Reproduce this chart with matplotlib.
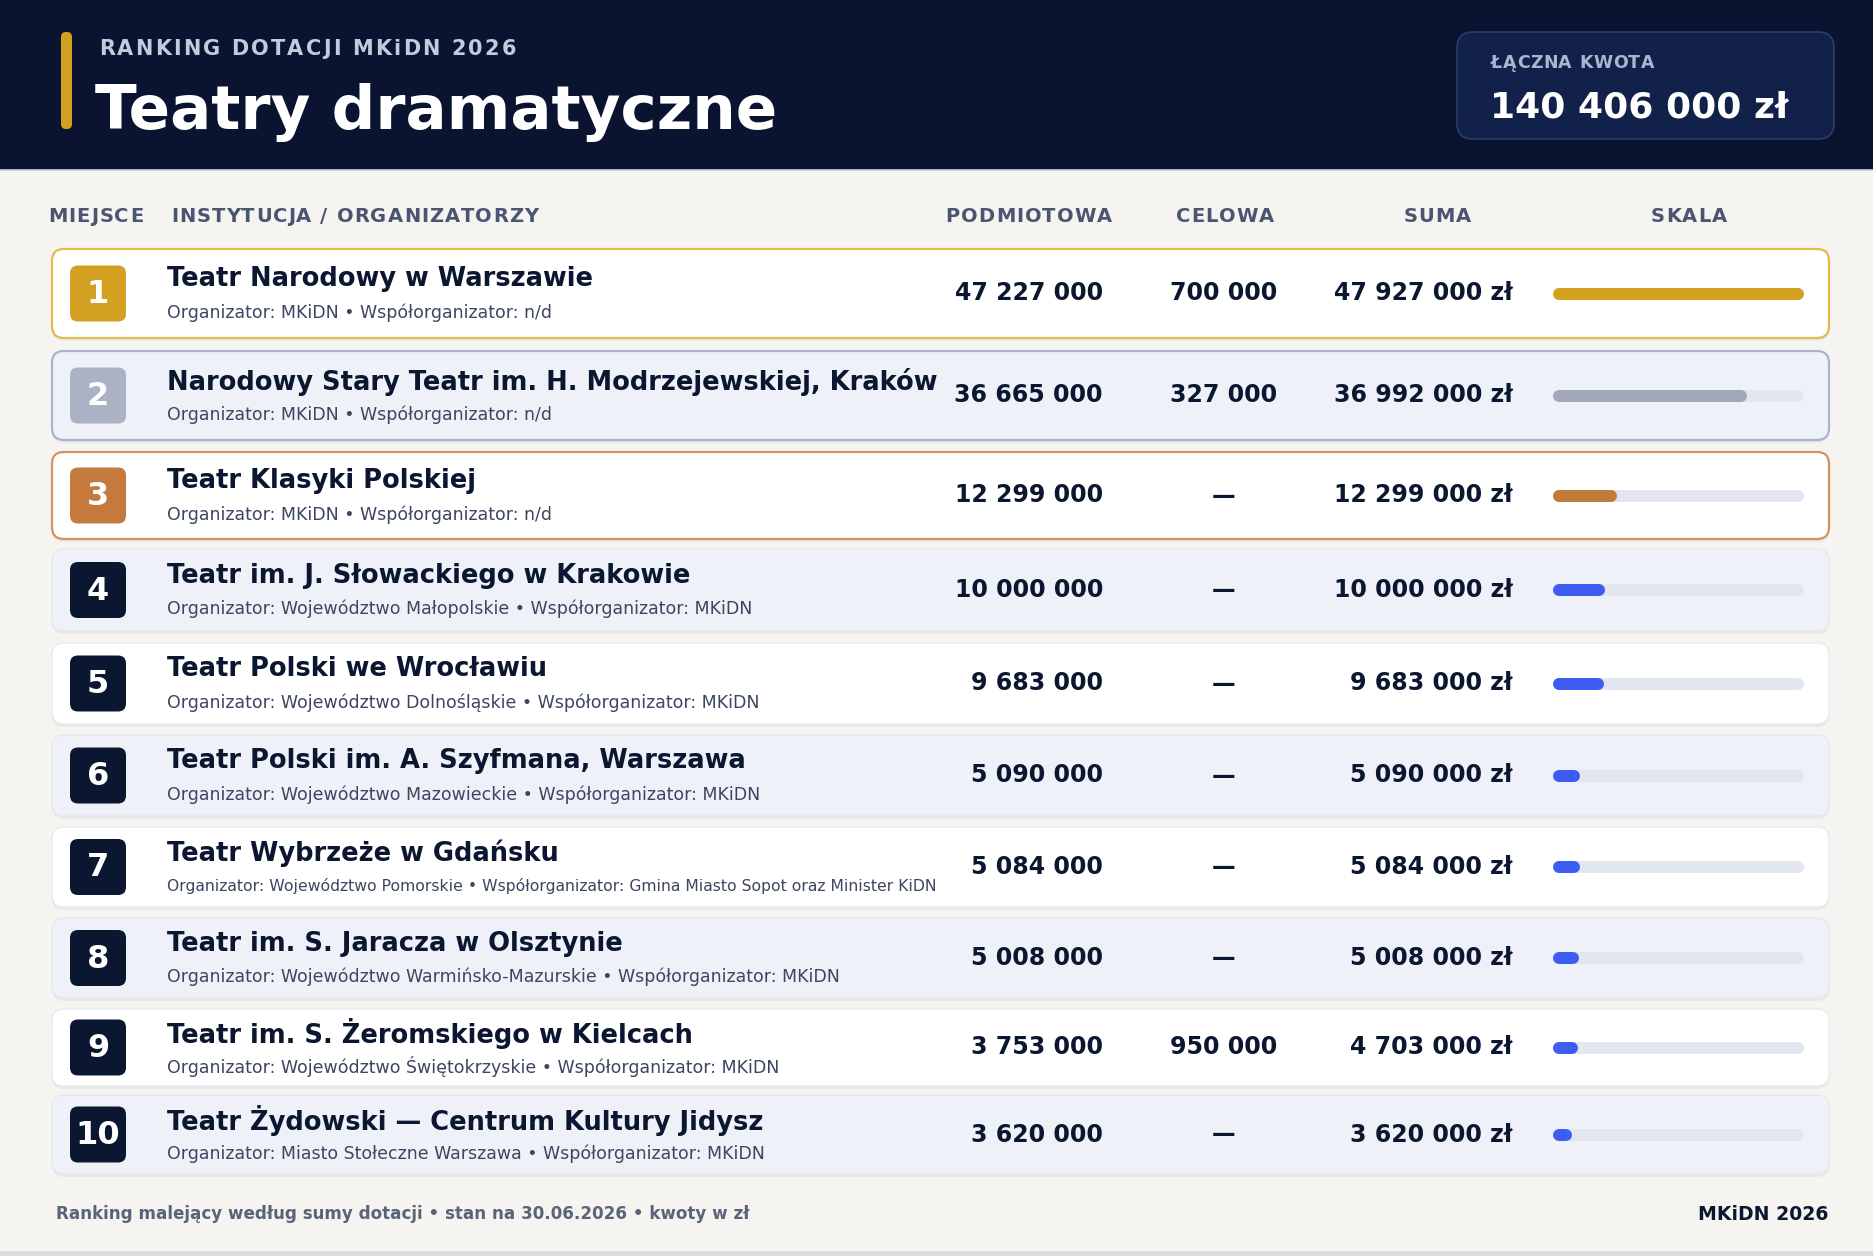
import matplotlib
matplotlib.use("Agg")
import matplotlib.pyplot as plt
from matplotlib.patches import FancyBboxPatch

# ---- data ----
ranks = [1, 2, 3, 4, 5, 6, 7, 8, 9, 10]
names = [
    "Teatr Narodowy w Warszawie",
    "Narodowy Stary Teatr im. H. Modrzejewskiej, Kraków",
    "Teatr Klasyki Polskiej",
    "Teatr im. J. Słowackiego w Krakowie",
    "Teatr Polski we Wrocławiu",
    "Teatr Polski im. A. Szyfmana, Warszawa",
    "Teatr Wybrzeże w Gdańsku",
    "Teatr im. S. Jaracza w Olsztynie",
    "Teatr im. S. Żeromskiego w Kielcach",
    "Teatr Żydowski — Centrum Kultury Jidysz",
]
organizers = [
    "Organizator: MKiDN • Współorganizator: n/d",
    "Organizator: MKiDN • Współorganizator: n/d",
    "Organizator: MKiDN • Współorganizator: n/d",
    "Organizator: Województwo Małopolskie • Współorganizator: MKiDN",
    "Organizator: Województwo Dolnośląskie • Współorganizator: MKiDN",
    "Organizator: Województwo Mazowieckie • Współorganizator: MKiDN",
    "Organizator: Województwo Pomorskie • Współorganizator: Gmina Miasto Sopot oraz Minister KiDN",
    "Organizator: Województwo Warmińsko-Mazurskie • Współorganizator: MKiDN",
    "Organizator: Województwo Świętokrzyskie • Współorganizator: MKiDN",
    "Organizator: Miasto Stołeczne Warszawa • Współorganizator: MKiDN",
]
podmiotowa = [47227000, 36665000, 12299000, 10000000, 9683000,
              5090000, 5084000, 5008000, 3753000, 3620000]
celowa = [700000, 327000, None, None, None, None, None, None, 950000, None]
suma = [47927000, 36992000, 12299000, 10000000, 9683000,
        5090000, 5084000, 5008000, 4703000, 3620000]

col_headers = ["MIEJSCE", "INSTYTUCJA / ORGANIZATORZY", "PODMIOTOWA", "CELOWA", "SUMA", "SKALA"]

# ---- layout (pixels) ----
W, H, DPI = 1874, 1256, 100
row_top = [249, 351, 452, 549, 643, 735, 827, 918, 1009, 1095]
row_h = [89, 89, 87, 82, 81, 81, 80, 80, 77, 79]

NAVY = "#0a1430"
INK = "#0b1630"
BG = "#f5f4f1"
LIGHT = "#eef1f7"
medal_fill = {1: "#d4a021", 2: "#aab2c4", 3: "#c47a3c"}
medal_edge = {1: "#e2bb4e", 2: "#a9b3c9", 3: "#d4935a"}
bar_color = {1: "#d4a020", 2: "#a0a8ba", 3: "#c07a3a"}
BLUE = "#3d5cf0"
TRACK = "#e2e6ef"


def fmt(v):
    return f"{v:,}".replace(",", " ")


fig = plt.figure(figsize=(W / DPI, H / DPI), dpi=DPI, facecolor=BG)
ax = fig.add_axes([0, 0, 1, 1])
ax.set_xlim(0, W)
ax.set_ylim(H, 0)
ax.axis("off")
renderer = fig.canvas.get_renderer()


def rbox(x, y, w, h, r, fc, ec="none", lw=0, z=1, alpha=1.0):
    p = FancyBboxPatch((x + r, y + r), w - 2 * r, h - 2 * r,
                       boxstyle=f"round,pad={r}", fc=fc, ec=ec, lw=lw,
                       zorder=z, alpha=alpha)
    ax.add_patch(p)
    return p


def space_width(**kw):
    t = ax.text(0, 0, "HH", **kw)
    w2 = t.get_window_extent(renderer).width
    t.set_text("H H")
    sp = t.get_window_extent(renderer).width - w2
    t.remove()
    return sp


def spaced(x, y, s, gap, **kw):
    # letter by letter, to get the tracking of the caps labels
    sp = space_width(**kw)
    for ch in s:
        if ch == " ":
            x += sp + gap
            continue
        t = ax.text(x, y, ch, ha="left", **kw)
        x += t.get_window_extent(renderer).width + gap
    return x


def spaced_width(s, gap, **kw):
    sp = space_width(**kw)
    t = ax.text(0, 0, "H", **kw)
    total = 0
    for ch in s:
        if ch == " ":
            total += sp + gap
        else:
            t.set_text(ch)
            total += t.get_window_extent(renderer).width + gap
    t.remove()
    return total - gap


# ---- header ----
ax.add_patch(plt.Rectangle((0, 0), W, 170, fc=NAVY, ec="none", zorder=0))
ax.plot([0, W], [170, 170], color="#c9cede", lw=1.2, zorder=1)
rbox(61, 32, 11, 97, 5, "#d4a021", z=2)
spaced(99, 49, "RANKING DOTACJI MKiDN 2026", 2.2, fontsize=15, fontweight="bold",
       color="#c3cadb", va="center", zorder=3)
ax.text(95, 129, "Teatry dramatyczne", fontsize=44, fontweight="bold",
        color="white", va="baseline", ha="left", zorder=3)

rbox(1457, 32, 377, 107, 16, "#12214a", ec="#2b3d6b", lw=1.2, z=2)
spaced(1491, 63, "ŁĄCZNA KWOTA", 0.6, fontsize=12.5, fontweight="bold",
       color="#aab6cf", va="center", zorder=3)
ax.text(1490, 118, f"{fmt(sum(suma))} zł", fontsize=26, fontweight="bold",
        color="white", va="baseline", ha="left", zorder=3)

# ---- column headers ----
hdr_kw = dict(fontsize=14, fontweight="bold", color="#4b5572", va="center", zorder=3)
hdr_x = [48, 171, 1029, 1225, 1437, 1689]
hdr_align = ["left", "left", "center", "center", "center", "center"]
for label, hx, al in zip(col_headers, hdr_x, hdr_align):
    if al == "center":
        hx = hx - spaced_width(label, 1.1, **hdr_kw) / 2
    spaced(hx, 217, label, 1.1, **hdr_kw)

# ---- rows ----
bx = fig.add_axes([1553 / W, 0, 251 / W, 1])
bx.set_xlim(0, max(suma))
bx.set_ylim(H, 0)
bx.axis("off")
bar_lw_px = 12
cap = bar_lw_px / 2 / 251 * max(suma)
sub_max_w = 773

for i, rk in enumerate(ranks):
    top, h = row_top[i], row_h[i]
    yc = top + h / 2
    if rk in medal_fill:
        fc = LIGHT if rk == 2 else "white"
        ec, lw = medal_edge[rk], 1.6
    else:
        fc = LIGHT if rk % 2 == 0 else "white"
        ec, lw = "#e3e6ed", 0.8
    rbox(52, top + 3, 1777, h, 12, "#1a2340", z=1, alpha=0.05)
    rbox(52, top, 1777, h, 12, fc, ec=ec, lw=lw, z=2)

    badge = medal_fill.get(rk, INK)
    rbox(70, yc - 28, 56, 56, 8, badge, z=3)
    ax.text(98, yc + 1, str(rk), fontsize=23, fontweight="bold", color="white",
            ha="center", va="center", zorder=4)

    ax.text(167, yc - 14, names[i], fontsize=18.5, fontweight="bold", color=INK,
            ha="left", va="center", zorder=4)
    sub = ax.text(167, yc + 19, organizers[i], fontsize=12.5, color="#3c4660",
                  ha="left", va="center", zorder=4)
    sw = sub.get_window_extent(renderer).width
    if sw > sub_max_w:
        sub.set_fontsize(12.5 * sub_max_w / sw)

    ax.text(1103, yc, fmt(podmiotowa[i]), fontsize=17, fontweight="bold",
            color=INK, ha="right", va="center", zorder=4)
    cel = fmt(celowa[i]) if celowa[i] is not None else "—"
    ax.text(1224, yc, cel, fontsize=17, fontweight="bold",
            color=INK, ha="center", va="center", zorder=4)
    ax.text(1513, yc, f"{fmt(suma[i])} zł", fontsize=17, fontweight="bold",
            color=INK, ha="right", va="center", zorder=4)

    lw_pt = bar_lw_px * 72 / DPI
    bx.plot([cap, max(suma) - cap], [yc, yc], color=TRACK, lw=lw_pt,
            solid_capstyle="round", zorder=3)
    bx.plot([cap, suma[i] - cap], [yc, yc], color=bar_color.get(rk, BLUE),
            lw=lw_pt, solid_capstyle="round", zorder=4)

# ---- footer ----
ax.text(56, 1214, "Ranking malejący według sumy dotacji • stan na 30.06.2026 • kwoty w zł",
        fontsize=12.1, fontweight="bold", color="#5a6478", ha="left", va="center")
ax.text(1829, 1214, "MKiDN 2026", fontsize=13.6, fontweight="bold", color=INK,
        ha="right", va="center")
ax.add_patch(plt.Rectangle((0, 1251), W, 5, fc="#dcdcdc", ec="none", zorder=1))

fig.savefig("out.png", dpi=DPI, facecolor=BG)
